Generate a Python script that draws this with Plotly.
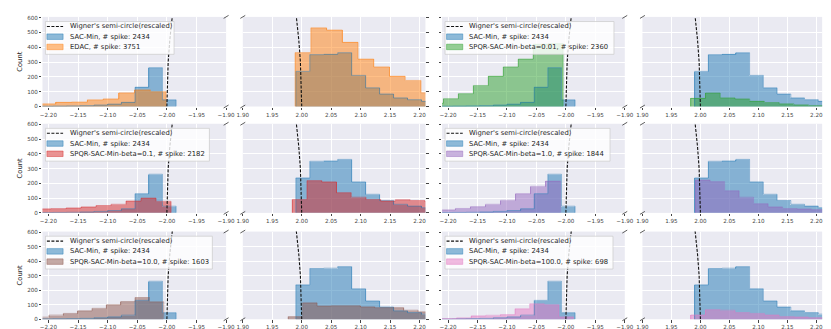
import numpy as np
import plotly.graph_objects as go

# ---- data ----
SAC_L_EDGES = [-2.2154, -2.1923, -2.1692, -2.1461, -2.1230, -2.0999, -2.0768, -2.0537, -2.0306, -2.0075, -1.9844]
SAC_L_COUNTS = [2, 3, 4, 6, 10, 16, 28, 130, 262, 45]
SAC_R_EDGES = [1.9900, 2.0137, 2.0374, 2.0611, 2.0848, 2.1085, 2.1322, 2.1559, 2.1796, 2.2033, 2.2270]
SAC_R_COUNTS = [237, 350, 352, 363, 210, 126, 84, 58, 46, 35]

EDAC_L_EDGES = [-2.2140, -2.1874, -2.1608, -2.1342, -2.1076, -2.0810, -2.0544, -2.0278, -2.0012]
EDAC_L_COUNTS = [18, 28, 30, 45, 51, 92, 112, 100]
EDAC_R_EDGES = [1.9888, 2.0155, 2.0422, 2.0689, 2.0956, 2.1223, 2.1490, 2.1757, 2.2024, 2.2291]
EDAC_R_COUNTS = [364, 531, 516, 433, 320, 267, 204, 176, 93]

B001_L_EDGES = [-2.2332, -2.2078, -2.1824, -2.1570, -2.1316, -2.1062, -2.0808, -2.0554, -2.0300, -2.0046]
B001_L_COUNTS = [22, 53, 87, 142, 204, 267, 320, 420, 425]
B001_R_EDGES = [1.9834, 2.0088, 2.0342, 2.0596, 2.0850, 2.1104, 2.1358, 2.1612, 2.1866, 2.2120, 2.2374]
B001_R_COUNTS = [55, 91, 58, 51, 35, 27, 18, 11, 7, 4]

B01_L_EDGES = [-2.2207, -2.1954, -2.1701, -2.1448, -2.1195, -2.0942, -2.0689, -2.0436, -2.0183, -1.9930]
B01_L_COUNTS = [27, 29, 33, 40, 50, 58, 80, 100, 78]
B01_R_EDGES = [1.984, 2.009, 2.034, 2.059, 2.084, 2.109, 2.134, 2.159, 2.184, 2.209, 2.234]
B01_R_COUNTS = [91, 219, 210, 137, 106, 91, 80, 89, 84, 77]

B1_L_EDGES = [-2.2129, -2.1874, -2.1619, -2.1364, -2.1109, -2.0854, -2.0599, -2.0344, -2.0089]
B1_L_COUNTS = [20, 30, 42, 58, 85, 130, 180, 215]
B1_R_EDGES = [1.9917, 2.0167, 2.0417, 2.0667, 2.0917, 2.1167, 2.1417, 2.1667, 2.1917, 2.2167]
B1_R_COUNTS = [222, 212, 150, 106, 62, 40, 29, 26, 22]

B10_L_EDGES = [-2.2231, -2.1989, -2.1747, -2.1505, -2.1263, -2.1021, -2.0779, -2.0537, -2.0295, -2.0053]
B10_L_COUNTS = [14, 28, 40, 58, 75, 100, 122, 150, 120]
B10_R_EDGES = [1.977, 2.0015, 2.026, 2.0505, 2.075, 2.0995, 2.124, 2.1485, 2.173, 2.1975, 2.222]
B10_R_COUNTS = [18, 113, 91, 93, 93, 85, 80, 80, 62, 51]

B100_L_EDGES = [-2.2102, -2.1854, -2.1606, -2.1358, -2.1110, -2.0862, -2.0614, -2.0366, -2.0118, -1.9870]
B100_L_COUNTS = [5, 9, 23, 27, 32, 72, 106, 100, 16]
B100_R_EDGES = [1.9834, 2.0088, 2.0342, 2.0596, 2.0850, 2.1104, 2.1358, 2.1612, 2.1866, 2.2120, 2.2374]
B100_R_COUNTS = [29, 66, 62, 46, 40, 29, 18, 15, 11, 9]

WIG_Y = [0, 150, 300, 450, 600, 640]
WIG_L_X = [-2.0, -1.9994, -1.9978, -1.9950, -1.9912, -1.9900]
WIG_R_X = [2.0, 1.9994, 1.9978, 1.9950, 1.9912, 1.9900]

LEFT_TICKS = [-2.20, -2.15, -2.10, -2.05, -2.00, -1.95, -1.90]
RIGHT_TICKS = [1.90, 1.95, 2.00, 2.05, 2.10, 2.15, 2.20]
Y_TICKS = [0, 100, 200, 300, 400, 500, 600]

BASE = ("SAC-Min, # spike: 2434", "#1f77b4", SAC_L_EDGES, SAC_L_COUNTS, SAC_R_EDGES, SAC_R_COUNTS)
PANELS = [
    [("EDAC, # spike: 3751", "#ff7f0e", EDAC_L_EDGES, EDAC_L_COUNTS, EDAC_R_EDGES, EDAC_R_COUNTS),
     ("SPQR-SAC-Min-beta=0.01, # spike: 2360", "#2ca02c", B001_L_EDGES, B001_L_COUNTS, B001_R_EDGES, B001_R_COUNTS)],
    [("SPQR-SAC-Min-beta=0.1, # spike: 2182", "#d62728", B01_L_EDGES, B01_L_COUNTS, B01_R_EDGES, B01_R_COUNTS),
     ("SPQR-SAC-Min-beta=1.0, # spike: 1844", "#9467bd", B1_L_EDGES, B1_L_COUNTS, B1_R_EDGES, B1_R_COUNTS)],
    [("SPQR-SAC-Min-beta=10.0, # spike: 1603", "#8c564b", B10_L_EDGES, B10_L_COUNTS, B10_R_EDGES, B10_R_COUNTS),
     ("SPQR-SAC-Min-beta=100.0, # spike: 698", "#e377c2", B100_L_EDGES, B100_L_COUNTS, B100_R_EDGES, B100_R_COUNTS)],
]

# ---- layout geometry (pixels) ----
W, H = 831, 329
COLS = [(29, 216), (233, 419), (436, 622), (640, 823)]
ROWS = [(7, 98), (115.5, 206), (225, 314)]
LEGEND_W = [[131, 172], [167, 168], [170, 171]]
FONT = "DejaVu Sans"
TXT = "#262626"


def fx(p):
    return p / W


def fy(p):
    return 1 - p / H


def rgba(hex_color, a):
    h = hex_color.lstrip("#")
    return "rgba(%d,%d,%d,%s)" % (int(h[0:2], 16), int(h[2:4], 16), int(h[4:6], 16), a)


def hist_traces(edges, counts, color, ax):
    e = np.array(edges)
    fill = go.Bar(
        x=(e[:-1] + e[1:]) / 2,
        y=counts,
        width=np.diff(e),
        marker=dict(color=rgba(color, 0.5), line=dict(width=0)),
        xaxis="x%d" % ax, yaxis="y%d" % ax,
        showlegend=False, hoverinfo="skip",
    )
    # step outline like seaborn's element="step"
    outline = go.Scatter(
        x=[edges[0]] + list(edges),
        y=[0] + list(counts) + [0],
        mode="lines", line=dict(color=rgba(color, 0.55), width=0.9, shape="hv"),
        xaxis="x%d" % ax, yaxis="y%d" % ax,
        showlegend=False, hoverinfo="skip",
    )
    return [fill, outline]


fig = go.Figure()
shapes = []
annotations = []
layout = {}

for r in range(3):
    for pair in range(2):
        other = PANELS[r][pair]
        for side in range(2):
            c = pair * 2 + side
            ax = r * 4 + c + 1
            for s in (BASE, other):
                edges = s[2] if side == 0 else s[4]
                counts = s[3] if side == 0 else s[5]
                fig.add_traces(hist_traces(edges, counts, s[1], ax))
            fig.add_trace(go.Scatter(
                x=WIG_L_X if side == 0 else WIG_R_X, y=WIG_Y, mode="lines",
                line=dict(color="#111111", width=1.1, dash="3px,1.5px"),
                xaxis="x%d" % ax, yaxis="y%d" % ax, showlegend=False, hoverinfo="skip",
            ))

            x0, x1 = COLS[c]
            y0, y1 = ROWS[r]
            layout["xaxis%d" % ax] = dict(
                domain=[fx(x0), fx(x1)], anchor="y%d" % ax,
                range=[-2.21, -1.90] if side == 0 else [1.90, 2.21],
                tickvals=LEFT_TICKS if side == 0 else RIGHT_TICKS, tickformat=".2f",
                showgrid=True, gridcolor="white", gridwidth=0.8, zeroline=False,
                ticks="outside", ticklen=2.5, tickwidth=0.7, tickcolor="#444444",
                tickfont=dict(size=5.6, color="#444444", family=FONT),
                showline=False,
            )
            layout["yaxis%d" % ax] = dict(
                domain=[fy(y1), fy(y0)], anchor="x%d" % ax, range=[0, 605],
                tickvals=Y_TICKS, showgrid=True, gridcolor="white", gridwidth=0.8,
                zeroline=False, ticks="outside", ticklen=2.5, tickwidth=0.7,
                tickcolor="#444444", side="left" if side == 0 else "right",
                showticklabels=(c == 0),
                tickfont=dict(size=5.6, color="#444444", family=FONT),
                title=dict(text="Count", font=dict(size=6.8, color=TXT, family=FONT), standoff=3) if c == 0 else None,
                showline=False,
            )

            # broken-axis marks
            bx = x1 if side == 0 else x0
            for by in (y0, y1):
                shapes.append(dict(type="line", xref="paper", yref="paper",
                                   x0=fx(bx - 2.5), y0=fy(by + 1.5), x1=fx(bx + 2.5), y1=fy(by - 1.5),
                                   line=dict(color="#333333", width=0.8)))

        # legend drawn by hand on the left half of each pair
        lx = COLS[pair * 2][0]
        ty = ROWS[r][0]
        shapes.append(dict(type="rect", xref="paper", yref="paper",
                           x0=fx(lx + 3), x1=fx(lx + 3 + LEGEND_W[r][pair]),
                           y0=fy(ty + 38), y1=fy(ty + 4.7),
                           fillcolor="rgba(255,255,255,0.8)", line=dict(color="rgba(204,204,204,0.9)", width=0.8)))
        items = [("Wigner's semi-circle(rescaled)", None), (BASE[0], BASE[1]), (other[0], other[1])]
        for k, (label, col) in enumerate(items):
            iy = ty + 9.7 + k * 10.4
            if col is None:
                shapes.append(dict(type="line", xref="paper", yref="paper",
                                   x0=fx(lx + 4.5), x1=fx(lx + 21), y0=fy(iy), y1=fy(iy),
                                   line=dict(color="#111111", width=1.1, dash="3px,1.5px")))
            else:
                shapes.append(dict(type="rect", xref="paper", yref="paper",
                                   x0=fx(lx + 4.5), x1=fx(lx + 21), y0=fy(iy + 2.8), y1=fy(iy - 2.8),
                                   fillcolor=rgba(col, 0.5), line=dict(color=rgba(col, 0.55), width=0.8)))
            annotations.append(dict(text=label, xref="paper", yref="paper",
                                    x=fx(lx + 25.5), y=fy(iy), xanchor="left", yanchor="middle",
                                    showarrow=False, font=dict(size=6.8, color=TXT, family=FONT)))

fig.update_layout(
    width=W, height=H,
    margin=dict(l=0, r=0, t=0, b=0),
    paper_bgcolor="white", plot_bgcolor="#EAEAF2",
    barmode="overlay", bargap=0,
    showlegend=False,
    shapes=shapes, annotations=annotations,
    font=dict(family=FONT, color=TXT),
    **layout
)

fig.write_html("out.html")
